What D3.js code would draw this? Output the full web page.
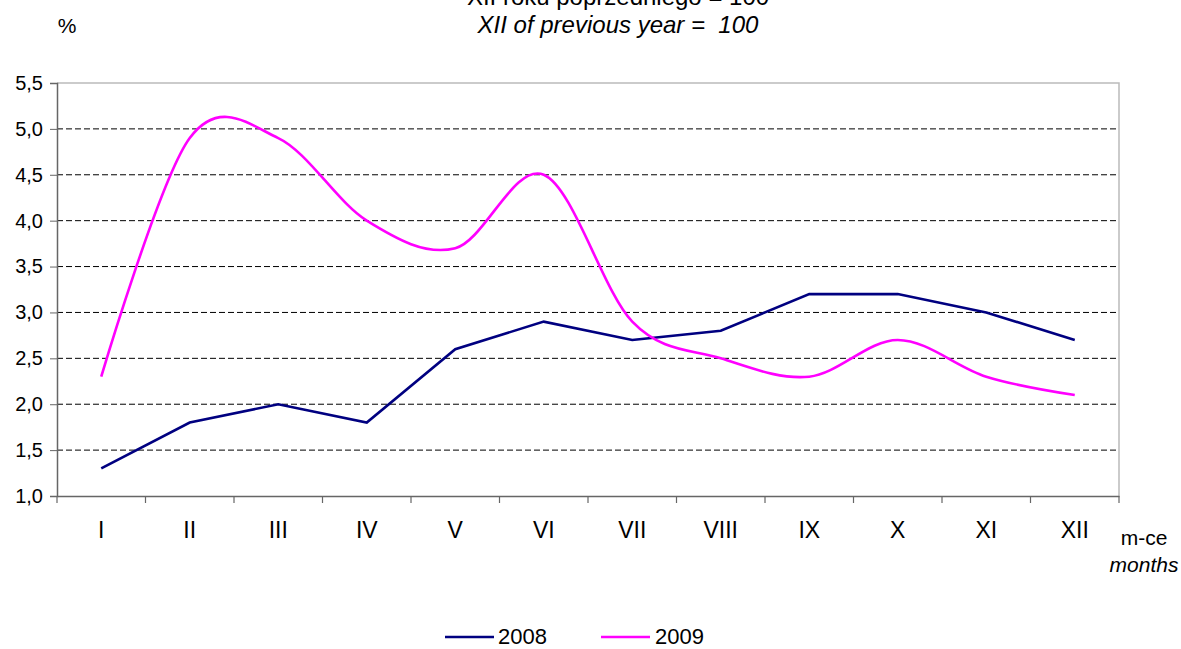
<!DOCTYPE html>
<html><head><meta charset="utf-8">
<script src="https://cdn.jsdelivr.net/npm/d3@7"></script>
<style>body{margin:0;background:#fff}svg{display:block;font-family:"Liberation Sans",Arial,sans-serif}</style>
</head><body><svg id="c" width="1181" height="649"></svg>
<script>
const months = ["I","II","III","IV","V","VI","VII","VIII","IX","X","XI","XII"];
const series2008 = [1.3,1.8,2.0,1.8,2.6,2.9,2.7,2.8,3.2,3.2,3.0,2.7];
const series2009 = [2.3,4.9,4.9,4.0,3.7,4.5,2.9,2.5,2.3,2.7,2.3,2.1];
const yTicks = [1.0,1.5,2.0,2.5,3.0,3.5,4.0,4.5,5.0,5.5];
const seriesNames = ["2008","2009"];
const colors = ["#000080","#ff00ff"];

const svg = d3.select("#c");
const L=57, R=1119, T=83, B=496;
const FF = "Liberation Sans, Arial, sans-serif";
const x = d3.scaleBand().domain(months).range([L,R]);
const y = d3.scaleLinear().domain([1,5.5]).range([B,T]);
const fmt = v => d3.format(".1f")(v).replace(".",",");

// grid
svg.append("g").selectAll("line").data(yTicks.filter(v=>v>1&&v<5.5)).join("line")
  .attr("x1",L).attr("x2",R).attr("y1",d=>y(d)).attr("y2",d=>y(d))
  .attr("stroke","#000").attr("stroke-width",1).attr("stroke-dasharray","6,3");
// plot border top/right
svg.append("path").attr("d",`M${L},${T}H${R}V${B}`).attr("fill","none").attr("stroke","#bbb").attr("stroke-width",1.5);

// y axis
const ya = svg.append("g").attr("transform",`translate(${L},0)`)
  .call(d3.axisLeft(y).tickValues(yTicks).tickFormat(fmt).tickSize(7).tickPadding(7));
ya.select(".domain").attr("stroke","#666").attr("stroke-width",1.5);
ya.selectAll(".tick line").attr("stroke","#666");
ya.selectAll("text").attr("font-size",20).attr("fill","#000").attr("font-family",FF);

// x axis
const xa = svg.append("g").attr("transform",`translate(0,${B})`)
  .call(d3.axisBottom(x).tickSize(0).tickPadding(0));
xa.select(".domain").attr("stroke","#666").attr("stroke-width",1.5);
xa.selectAll("text").attr("font-size",23).attr("fill","#000").attr("font-family",FF)
  .attr("dy",null).attr("y",42);
const bounds = d3.range(months.length+1).map(i=>L+i*x.bandwidth());
svg.append("g").selectAll("line").data(bounds).join("line")
  .attr("x1",d=>d).attr("x2",d=>d).attr("y1",B).attr("y2",B+7).attr("stroke","#666").attr("stroke-width",1.2);

// lines
const cx = d => x(d)+x.bandwidth()/2;
svg.append("path").datum(series2008)
  .attr("d",d3.line().x((d,i)=>cx(months[i])).y(d=>y(d)))
  .attr("fill","none").attr("stroke",colors[0]).attr("stroke-width",2.6);
svg.append("path").datum(series2009)
  .attr("d",d3.line().x((d,i)=>cx(months[i])).y(d=>y(d)).curve(d3.curveCardinal.tension(0)))
  .attr("fill","none").attr("stroke",colors[1]).attr("stroke-width",2.6);

// texts
const tx = (t,xx,yy,o={}) => svg.append("text").attr("x",xx).attr("y",yy).attr("font-size",o.fs||18)
  .attr("text-anchor",o.a||"middle").attr("font-style",o.it?"italic":"normal").attr("fill","#000")
  .attr("font-family",FF).text(t);
tx("XII roku poprzedniego = 100",618,5,{fs:24});
tx("XII of previous year =\u00a0 100",618,33,{it:true,fs:24});
tx("%",67,33,{fs:21});
tx("m-ce",1144,545,{fs:21});
tx("months",1144,572,{it:true,fs:21});

// legend
const lg = [[445,498],[601,655]];
seriesNames.forEach((n,i)=>{
  svg.append("line").attr("x1",lg[i][0]).attr("x2",lg[i][0]+49).attr("y1",637).attr("y2",637)
    .attr("stroke",colors[i]).attr("stroke-width",2.6);
  tx(n,lg[i][1],644,{a:"start",fs:22});
});
</script></body></html>
